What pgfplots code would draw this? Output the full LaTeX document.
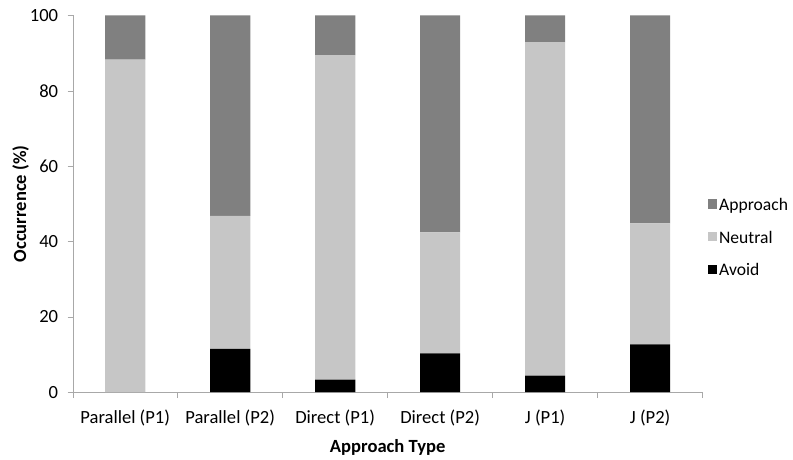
\documentclass[border=0pt]{standalone}
\usepackage{pgfplots}
\pgfplotsset{compat=1.18}
\usepackage{fontspec}
\setmainfont{Carlito}

\definecolor{approach}{HTML}{808080}
\definecolor{neutral}{HTML}{C6C6C6}
\definecolor{avoid}{HTML}{000000}
\definecolor{axisgray}{HTML}{A8A8A8}

\begin{document}
\begin{tikzpicture}
\begin{axis}[
    scale only axis,
    width=627pt, height=375pt,
    ybar stacked,
    bar width=40pt,
    xmin=-0.5, xmax=5.5,
    ymin=0, ymax=100,
    xtick={0,...,5},
    xticklabels={Parallel (P1),Parallel (P2),Direct (P1),Direct (P2),J (P1),J (P2)},
    major x tick style={draw=none},
    minor xtick={-0.5,0.5,...,5.5},
    minor x tick style={axisgray, thin},
    minor tick length=6pt,
    ytick={0,20,...,100},
    major tick length=5pt,
    tick align=outside,
    y tick style={axisgray, thin},
    axis x line*=bottom,
    axis y line*=left,
    axis line style={axisgray, thin, -},
    ticklabel style={font=\fontsize{18.5}{22}\selectfont},
    /pgf/number format/assume math mode=true,
    xticklabel style={yshift=-9pt},
    yticklabel style={xshift=-6pt},
    xlabel={\bfseries Approach Type},
    ylabel={\bfseries Occurrence (\%)},
    label style={font=\fontsize{18.5}{22}\selectfont},
    xlabel style={yshift=-7pt},
    ylabel style={yshift=-6pt},
    legend style={draw=none, fill=none, at={(1.003,0.41)}, anchor=west,
        font=\fontsize{17.5}{21}\selectfont, row sep=15pt,
        /tikz/every even column/.append style={column sep=2pt}},
    legend cell align=left,
    legend image code/.code={\fill[#1] (0cm,-0.13cm) rectangle (0.33cm,0.2cm);},
    reverse legend,
]
\addplot[fill=avoid, draw=none] coordinates {(0,0) (1,11.5) (2,3.3) (3,10.3) (4,4.4) (5,12.7)};
\addlegendentry{Avoid}
\addplot[fill=neutral, draw=none] coordinates {(0,88.3) (1,35.3) (2,86.2) (3,32.1) (4,88.5) (5,32.1)};
\addlegendentry{Neutral}
\addplot[fill=approach, draw=none] coordinates {(0,11.7) (1,53.2) (2,10.5) (3,57.6) (4,7.1) (5,55.2)};
\addlegendentry{Approach}
\end{axis}
\path ([xshift=-9pt,yshift=6pt]current bounding box.north west);
\end{tikzpicture}
\end{document}
